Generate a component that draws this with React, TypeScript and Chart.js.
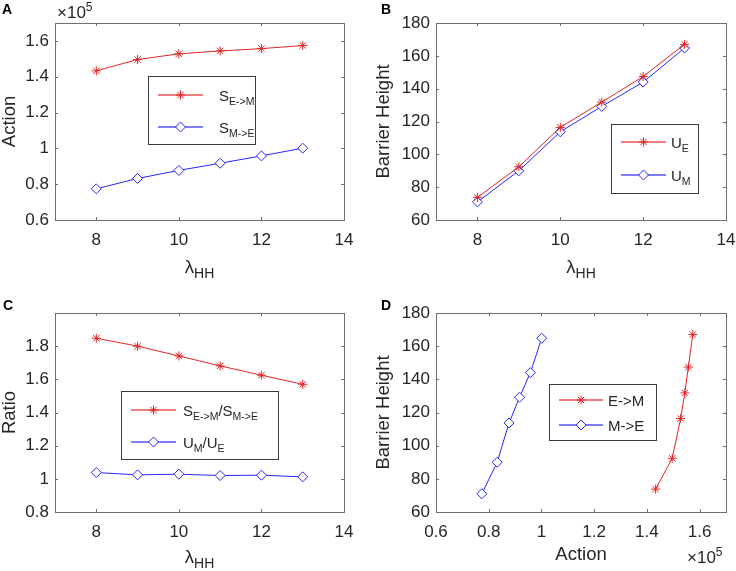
import React, { useEffect, useRef } from 'react';
import { Chart, registerables } from 'chart.js';
Chart.register(...registerables);

// ---- data ----
const lambdaHH = [8, 9, 10, 11, 12, 13];
const actionEtoM = [143300, 149600, 152800, 154400, 155700, 157400];
const actionMtoE = [77400, 83200, 87700, 91700, 95800, 100100];
const barrierUE = [73.8, 92.4, 116.4, 131.8, 147.4, 167.0];
const barrierUM = [71.0, 90.0, 113.7, 129.2, 144.0, 164.8];
const ratioAction = [1.848, 1.8, 1.741, 1.681, 1.625, 1.57];
const ratioBarrier = [1.038, 1.024, 1.028, 1.02, 1.022, 1.012];

const lambdaTicks = [8, 10, 12, 14];
const actionTicks = [60000, 80000, 100000, 120000, 140000, 160000];
const barrierTicks = [60, 80, 100, 120, 140, 160, 180];
const ratioTicks = [0.8, 1.0, 1.2, 1.4, 1.6, 1.8];

const FONT = '"Liberation Sans", Arial, Helvetica, sans-serif';
const RED = 'rgb(226, 38, 38)';
const BLUE = 'rgb(38, 38, 255)';
const TXT = '#262626';
const TICK_PX = 17;
const LABEL_PX = 18.5;
const LEG_PX = 15;
const LEG_SUB_PX = 10.5;

type Seg = { t: string; sub?: boolean; sup?: boolean };
type Series = { xs: number[]; ys: number[]; color: string; legColor: string; marker: 'star' | 'rectRot'; label: Seg[] };
type PanelCfg = {
  left: number; top: number; w: number; h: number;
  area: { l: number; r: number; t: number; b: number };
  xMin: number; xMax: number; xTicks: number[]; xFmt: (v: number) => string;
  yMin: number; yMax: number; yTicks: number[]; yFmt: (v: number) => string;
  series: Series[];
  letter: string; letterX: number; letterY: number;
  yTitle: string; yTitleX: number;
  xTitle: Seg[]; xTitleBase: number;
  exp?: { x: number; y: number };
  legend: { x: number; y: number; w: number; h: number; rows: number[]; l0: number; l1: number; tx: number };
};

const trim = (v: number) => String(parseFloat(v.toFixed(2)));
const fmtAction = (v: number) => trim(v / 1e5);
const fmtPlain = (v: number) => trim(v);

const lambdaTitle: Seg[] = [{ t: 'λ' }, { t: 'HH', sub: true }];
const LEG_RED = 'rgba(226, 38, 38, 0.6)';
const LEG_BLUE = 'rgba(38, 38, 255, 0.6)';

const panels: PanelCfg[] = [
  {
    left: 0, top: 0, w: 368, h: 285,
    area: { l: 55, r: 344, t: 23, b: 220 },
    xMin: 7, xMax: 14, xTicks: lambdaTicks, xFmt: fmtPlain,
    yMin: 60000, yMax: 170000, yTicks: actionTicks, yFmt: fmtAction,
    series: [
      { xs: lambdaHH, ys: actionEtoM, color: RED, legColor: LEG_RED, marker: 'star', label: [{ t: 'S' }, { t: 'E->M', sub: true }] },
      { xs: lambdaHH, ys: actionMtoE, color: BLUE, legColor: LEG_BLUE, marker: 'rectRot', label: [{ t: 'S' }, { t: 'M->E', sub: true }] },
    ],
    letter: 'A', letterX: 2, letterY: 13.5,
    yTitle: 'Action', yTitleX: 15,
    xTitle: lambdaTitle, xTitleBase: 273,
    exp: { x: 57, y: 18 },
    legend: { x: 148, y: 76, w: 107, h: 68, rows: [94.5, 127], l0: 158, l1: 203, tx: 219 },
  },
  {
    left: 368, top: 0, w: 368, h: 285,
    area: { l: 68, r: 358, t: 23, b: 220 },
    xMin: 7, xMax: 14, xTicks: lambdaTicks, xFmt: fmtPlain,
    yMin: 60, yMax: 180, yTicks: barrierTicks, yFmt: fmtPlain,
    series: [
      { xs: lambdaHH, ys: barrierUE, color: RED, legColor: LEG_RED, marker: 'star', label: [{ t: 'U' }, { t: 'E', sub: true }] },
      { xs: lambdaHH, ys: barrierUM, color: BLUE, legColor: LEG_BLUE, marker: 'rectRot', label: [{ t: 'U' }, { t: 'M', sub: true }] },
    ],
    letter: 'B', letterX: 13, letterY: 13.5,
    yTitle: 'Barrier Height', yTitleX: 20.5,
    xTitle: lambdaTitle, xTitleBase: 273,
    legend: { x: 243, y: 124, w: 87, h: 69, rows: [142, 174.5], l0: 253, l1: 298, tx: 303 },
  },
  {
    left: 0, top: 285, w: 368, h: 286,
    area: { l: 55, r: 344, t: 28, b: 227 },
    xMin: 7, xMax: 14, xTicks: lambdaTicks, xFmt: fmtPlain,
    yMin: 0.8, yMax: 2.0, yTicks: ratioTicks, yFmt: fmtPlain,
    series: [
      { xs: lambdaHH, ys: ratioAction, color: RED, legColor: LEG_RED, marker: 'star', label: [{ t: 'S' }, { t: 'E->M', sub: true }, { t: '/S' }, { t: 'M->E', sub: true }] },
      { xs: lambdaHH, ys: ratioBarrier, color: BLUE, legColor: LEG_BLUE, marker: 'rectRot', label: [{ t: 'U' }, { t: 'M', sub: true }, { t: '/U' }, { t: 'E', sub: true }] },
    ],
    letter: 'C', letterX: 3, letterY: 25,
    yTitle: 'Ratio', yTitleX: 15,
    xTitle: lambdaTitle, xTitleBase: 278,
    legend: { x: 121, y: 106, w: 157, h: 68, rows: [124.5, 157], l0: 131, l1: 176, tx: 183 },
  },
  {
    left: 368, top: 285, w: 368, h: 286,
    area: { l: 68, r: 358, t: 28, b: 227 },
    xMin: 60000, xMax: 170000, xTicks: actionTicks, xFmt: fmtAction,
    yMin: 60, yMax: 180, yTicks: barrierTicks, yFmt: fmtPlain,
    series: [
      { xs: actionEtoM, ys: barrierUE, color: RED, legColor: LEG_RED, marker: 'star', label: [{ t: 'E->M' }] },
      { xs: actionMtoE, ys: barrierUM, color: BLUE, legColor: LEG_BLUE, marker: 'rectRot', label: [{ t: 'M->E' }] },
    ],
    letter: 'D', letterX: 13, letterY: 25,
    yTitle: 'Barrier Height', yTitleX: 21,
    xTitle: [{ t: 'Action' }], xTitleBase: 275,
    exp: { x: 319, y: 278 },
    legend: { x: 181, y: 99, w: 107, h: 56, rows: [114.5, 140], l0: 191, l1: 235, tx: 240 },
  },
];

function drawSegs(ctx: CanvasRenderingContext2D, segs: Seg[], x: number, y: number, mainPx: number, subPx: number, subDrop: number, supRise: number, align: 'left' | 'center') {
  const fontFor = (s: Seg) => `${s.sub || s.sup ? subPx : mainPx}px ${FONT}`;
  const widths = segs.map((s) => { ctx.font = fontFor(s); return ctx.measureText(s.t).width; });
  const total = widths.reduce((a, b) => a + b, 0);
  let cx = align === 'center' ? x - total / 2 : x;
  ctx.textAlign = 'left';
  ctx.textBaseline = 'alphabetic';
  segs.forEach((s, i) => {
    ctx.font = fontFor(s);
    ctx.fillText(s.t, cx, s.sub ? y + subDrop : s.sup ? y - supRise : y);
    cx += widths[i];
  });
}

function drawMarker(ctx: CanvasRenderingContext2D, kind: 'star' | 'rectRot', x: number, y: number, color: string) {
  ctx.save();
  ctx.strokeStyle = color;
  ctx.lineWidth = 1;
  ctx.beginPath();
  if (kind === 'star') {
    const r = 4.5;
    const d = r * Math.SQRT1_2;
    ctx.moveTo(x - r, y); ctx.lineTo(x + r, y);
    ctx.moveTo(x, y - r); ctx.lineTo(x, y + r);
    ctx.moveTo(x - d, y - d); ctx.lineTo(x + d, y + d);
    ctx.moveTo(x - d, y + d); ctx.lineTo(x + d, y - d);
    ctx.stroke();
  } else {
    const r = 5;
    ctx.moveTo(x, y - r); ctx.lineTo(x + r, y); ctx.lineTo(x, y + r); ctx.lineTo(x - r, y); ctx.closePath();
    ctx.fillStyle = '#fff';
    ctx.fill();
    ctx.stroke();
  }
  ctx.restore();
}

function makeDecor(p: PanelCfg) {
  return {
    id: 'decor' + p.letter,
    afterDraw(chart: any) {
      const ctx: CanvasRenderingContext2D = chart.ctx;
      const { left: L, right: R, top: T, bottom: B } = chart.chartArea;
      const xs = chart.scales.x;
      const ys = chart.scales.y;
      ctx.save();
      // axes box
      ctx.strokeStyle = '#6e6e6e';
      ctx.lineWidth = 1;
      ctx.strokeRect(Math.round(L) + 0.5, Math.round(T) + 0.5, Math.round(R - L), Math.round(B - T));
      // inward tick marks on all sides
      ctx.beginPath();
      for (const v of p.xTicks) {
        const px = Math.round(xs.getPixelForValue(v)) + 0.5;
        ctx.moveTo(px, B); ctx.lineTo(px, B - 3);
        ctx.moveTo(px, T); ctx.lineTo(px, T + 3);
      }
      for (const v of p.yTicks) {
        const py = Math.round(ys.getPixelForValue(v)) + 0.5;
        ctx.moveTo(L, py); ctx.lineTo(L + 3, py);
        ctx.moveTo(R, py); ctx.lineTo(R - 3, py);
      }
      ctx.stroke();

      // panel letter
      ctx.font = `bold 14px ${FONT}`;
      ctx.textAlign = 'left';
      ctx.textBaseline = 'alphabetic';
      ctx.fillStyle = '#000';
      ctx.fillText(p.letter, p.letterX, p.letterY);
      ctx.fillStyle = TXT;

      // y title
      ctx.save();
      ctx.translate(p.yTitleX, (T + B) / 2);
      ctx.rotate(-Math.PI / 2);
      ctx.font = `${LABEL_PX}px ${FONT}`;
      ctx.textAlign = 'center';
      ctx.textBaseline = 'alphabetic';
      ctx.fillText(p.yTitle, 0, 0);
      ctx.restore();

      // x title
      drawSegs(ctx, p.xTitle, (L + R) / 2, p.xTitleBase, LABEL_PX, 14, 5, 0, 'center');

      // exponent
      if (p.exp) {
        drawSegs(ctx, [{ t: '×10' }, { t: '5', sup: true }], p.exp.x, p.exp.y, TICK_PX, 12, 0, 7, 'left');
      }

      // legend
      const lg = p.legend;
      ctx.fillStyle = '#fff';
      ctx.fillRect(lg.x, lg.y, lg.w, lg.h);
      ctx.strokeStyle = '#3c3c3c';
      ctx.lineWidth = 1;
      ctx.strokeRect(lg.x + 0.5, lg.y + 0.5, lg.w, lg.h);
      p.series.forEach((s, i) => {
        const ry = Math.round(lg.rows[i]);
        ctx.fillStyle = s.legColor;
        ctx.fillRect(lg.l0, ry - 1, lg.l1 - lg.l0, 2);
        drawMarker(ctx, s.marker, (lg.l0 + lg.l1) / 2, ry, s.color);
        ctx.fillStyle = TXT;
        drawSegs(ctx, s.label, lg.tx, ry + 5.5, LEG_PX, LEG_SUB_PX, 4, 0, 'left');
      });
      ctx.restore();
    },
  };
}

function Panel({ p }: { p: PanelCfg }) {
  const ref = useRef<HTMLCanvasElement>(null);
  useEffect(() => {
    const canvas = ref.current!;
    const tickFont = { family: FONT, size: TICK_PX };
    const chart = new Chart(canvas, {
      type: 'scatter',
      data: {
        datasets: p.series.map((s) => ({
          label: s.label.map((g) => g.t).join(''),
          data: s.xs.map((x, i) => ({ x, y: s.ys[i] })),
          showLine: true,
          borderColor: s.color,
          backgroundColor: s.marker === 'rectRot' ? '#fff' : s.color,
          borderWidth: 1,
          pointStyle: s.marker,
          pointRadius: s.marker === 'rectRot' ? 5 : 4.5,
          pointBorderWidth: 1,
          pointBorderColor: s.color,
          pointBackgroundColor: s.marker === 'rectRot' ? '#fff' : s.color,
          pointHoverRadius: 5,
          clip: false as any,
        })),
      },
      options: {
        animation: false,
        responsive: false,
        devicePixelRatio: 1,
        events: [],
        layout: { padding: { top: p.area.t, right: p.w - p.area.r, left: 0, bottom: 0 } },
        plugins: { legend: { display: false }, tooltip: { enabled: false } },
        scales: {
          x: {
            type: 'linear',
            position: 'bottom',
            min: p.xMin,
            max: p.xMax,
            grid: { display: false, drawTicks: false },
            border: { display: false },
            ticks: { font: tickFont, color: TXT, padding: 10, maxRotation: 0, autoSkip: false, callback: (v: any) => p.xFmt(Number(v)) },
            afterBuildTicks: (s: any) => { s.ticks = p.xTicks.map((v) => ({ value: v })); },
            afterFit: (s: any) => {
              s.height = p.h - p.area.b;
              s.paddingLeft = 0; s.paddingRight = 0; s.paddingTop = 0; s.paddingBottom = 0;
            },
          },
          y: {
            type: 'linear',
            position: 'left',
            min: p.yMin,
            max: p.yMax,
            grid: { display: false, drawTicks: false },
            border: { display: false },
            ticks: { font: tickFont, color: TXT, padding: 6, autoSkip: false, callback: (v: any) => p.yFmt(Number(v)) },
            afterBuildTicks: (s: any) => { s.ticks = p.yTicks.map((v) => ({ value: v })); },
            afterFit: (s: any) => {
              s.width = p.area.l;
              s.paddingLeft = 0; s.paddingRight = 0; s.paddingTop = 0; s.paddingBottom = 0;
            },
          },
        },
      } as any,
      plugins: [makeDecor(p)],
    });
    return () => chart.destroy();
  }, [p]);
  return (
    <canvas
      ref={ref}
      width={p.w}
      height={p.h}
      style={{ position: 'absolute', left: p.left, top: p.top, width: p.w, height: p.h }}
    />
  );
}

export default function App() {
  return (
    <div style={{ position: 'absolute', left: 0, top: 0, width: 736, height: 571, background: '#fff', overflow: 'hidden' }}>
      {panels.map((p) => (
        <Panel key={p.letter} p={p} />
      ))}
    </div>
  );
}
